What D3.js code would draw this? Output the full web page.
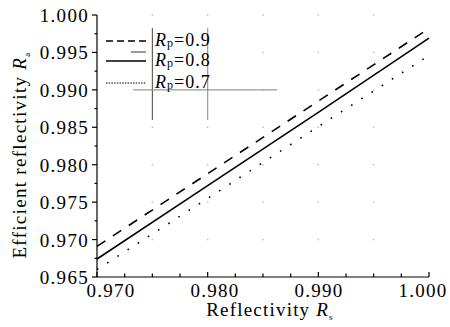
<!DOCTYPE html>
<html><head><meta charset="utf-8">
<script src="https://cdn.jsdelivr.net/npm/d3@7"></script>
<style>
html,body{margin:0;padding:0;background:#fff;}
svg{display:block;}
text{font-family:"Liberation Serif","Times New Roman",serif;fill:#000;}
</style></head>
<body><svg id="c" width="450" height="327"></svg>
<script>
// ---- data ----
const xValues = [0.970, 0.980, 0.990, 1.000];
const seriesNames = ["0.9", "0.8", "0.7"];
const rp09 = [0.9691, 0.9788, 0.9885, 0.9982];
const rp08 = [0.9674, 0.9772, 0.9870, 0.9969];
const rp07 = [0.9660, 0.9755, 0.9851, 0.9946];
const xTicks = [0.970, 0.980, 0.990, 1.000];
const yTicks = [0.965, 0.970, 0.975, 0.980, 0.985, 0.990, 0.995, 1.000];
const xTickLabels = ["0.970", "0.980", "0.990", "1.000"];
const yTickLabels = ["0.965", "0.970", "0.975", "0.980", "0.985", "0.990", "0.995", "1.000"];
const gridX = [0.975, 0.980, 0.985, 0.990, 0.995];
const gridY = [0.970, 0.975, 0.980, 0.985, 0.990, 0.995, 1.000];

const svg = d3.select("#c");
const L = 97, R = 429, T = 15, B = 277;
const x = d3.scaleLinear().domain([0.970, 1.000]).range([L, R]);
const y = d3.scaleLinear().domain([0.965, 1.000]).range([B, T]);
const xLab = d3.scaleLinear().domain([0.970, 1.000]).range([111, 423]);

// grid dots
gridX.forEach(gx => gridY.forEach(gy => {
  svg.append("rect").attr("x", x(gx) - 0.7).attr("y", y(gy) - 0.7)
    .attr("width", 1.4).attr("height", 1.4).attr("fill", "#bbb");
}));

// artifact partial grid lines
svg.append("line").attr("x1", x(0.975)).attr("x2", x(0.975)).attr("y1", 28).attr("y2", 120)
  .attr("stroke", "#444").attr("stroke-width", 1);
svg.append("line").attr("x1", x(0.980)).attr("x2", x(0.980)).attr("y1", 28).attr("y2", 120)
  .attr("stroke", "#999").attr("stroke-width", 1.2);
svg.append("line").attr("x1", 133).attr("x2", 277).attr("y1", y(0.990)).attr("y2", y(0.990))
  .attr("stroke", "#999").attr("stroke-width", 1.2);

// axes
const ax = svg.append("g").attr("stroke", "#000").attr("stroke-width", 1.2);
ax.append("line").attr("x1", L).attr("x2", R).attr("y1", B).attr("y2", B);
ax.append("line").attr("x1", L).attr("x2", L).attr("y1", B).attr("y2", T);
// x ticks (inward), minor every 0.0025
d3.range(0, 13).forEach(i => {
  const v = 0.970 + i * 0.0025;
  ax.append("line").attr("x1", x(v)).attr("x2", x(v)).attr("y1", B).attr("y2", B - (i % 4 === 0 ? 5 : 3.5));
});
// y ticks (outward)
d3.range(0, 15).forEach(i => {
  const v = 0.965 + i * 0.0025;
  ax.append("line").attr("x1", L).attr("x2", L - (i % 2 === 0 ? 5 : 2.5)).attr("y1", y(v)).attr("y2", y(v));
});

// tick labels
svg.append("g").selectAll("text").data(xTicks).join("text")
  .attr("x", d => xLab(d)).attr("y", 297).attr("text-anchor", "middle")
  .attr("font-size", 19).attr("letter-spacing", 1.3)
  .text((d, i) => xTickLabels[i]);
svg.append("g").selectAll("text").data(yTicks).join("text")
  .attr("x", 89).attr("y", d => y(d) + 7).attr("text-anchor", "end")
  .attr("font-size", 19).attr("letter-spacing", 1.3)
  .text((d, i) => yTickLabels[i]);

// axis titles
const xt = svg.append("text").attr("x", 270).attr("y", 316).attr("text-anchor", "middle")
  .attr("font-size", 19).attr("letter-spacing", 1.2);
xt.append("tspan").text("Reflectivity ");
xt.append("tspan").attr("font-style", "italic").text("R");
xt.append("tspan").attr("font-size", 9).attr("dy", 4).text("s");

const yt = svg.append("text").attr("transform", "translate(26,155) rotate(-90)")
  .attr("text-anchor", "middle").attr("font-size", 19).attr("letter-spacing", 1.3);
yt.append("tspan").text("Efficient reflectivity ");
yt.append("tspan").attr("font-style", "italic").text("R");
yt.append("tspan").attr("font-size", 9).attr("dy", 4).text("a");

// series
const series = [
  {vals: rp09, dash: "10,9", w: 1.6},
  {vals: rp08, dash: null, w: 1.6},
  {vals: rp07, dash: "1.6,10.5", w: 1.6}
];
const line = d3.line().x(d => x(d[0])).y(d => y(d[1]));
series.forEach(s => {
  svg.append("path").datum(xValues.map((v, i) => [v, s.vals[i]]))
    .attr("d", line).attr("fill", "none").attr("stroke", "#000")
    .attr("stroke-width", s.w).attr("stroke-dasharray", s.dash);
});

// legend
const legY = [41, 61, 83];
const legDash = ["7,4", null, "1.5,1.2"];
seriesNames.forEach((n, i) => {
  svg.append("line").attr("x1", 106).attr("x2", 146).attr("y1", legY[i]).attr("y2", legY[i])
    .attr("stroke", "#000").attr("stroke-width", i === 2 ? 1 : 1.5).attr("stroke-dasharray", legDash[i]);
  const t = svg.append("text").attr("x", 155).attr("y", legY[i] + 5).attr("font-size", 18).attr("letter-spacing", 1);
  t.append("tspan").attr("font-style", "italic").text("R");
  t.append("tspan").attr("font-size", 12).attr("dy", 1).text("p");
  t.append("tspan").attr("dy", -1).text("=" + n);
});
// stray short mark in legend
svg.append("line").attr("x1", 131).attr("x2", 146).attr("y1", 52).attr("y2", 52)
  .attr("stroke", "#333").attr("stroke-width", 1);
</script></body></html>
